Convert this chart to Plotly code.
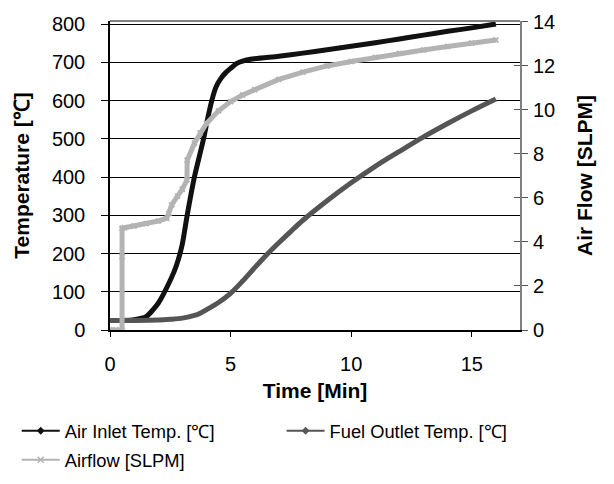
import plotly.graph_objects as go

# ---- data ----
air_t = [0, 0.5, 1.0, 1.5, 2.0, 2.5, 2.75, 3.0, 3.2, 3.5, 3.88, 4.05, 4.22, 4.4, 4.6, 4.8,
         5.0, 5.26, 5.5, 5.82, 7.0, 8.0, 9.0, 10.0, 11.0, 12.0, 13.0, 14.0, 15.0, 16.0]
air_temp = [25, 25, 27, 35, 70, 130, 168, 225, 300, 400, 500, 553, 600, 636, 658, 673,
            684, 697, 703, 708, 716, 724, 733, 742, 751, 761, 771, 781, 790, 800]

fuel_t = [0, 1, 2, 2.5, 3, 3.5, 3.74, 4, 4.5, 5, 5.5, 6, 6.5, 7, 7.5, 8, 9, 10, 11, 12, 13,
          14, 15, 16]
fuel_temp = [25, 25, 26, 28, 31, 38, 44, 53, 72, 96, 128, 163, 197, 228, 258, 287, 338, 385,
             428, 467, 505, 540, 573, 604]

flow_t = [0, 0.25, 0.5, 0.5, 0.5, 0.6, 1.0, 1.5, 2.0, 2.35, 2.45, 2.56, 2.8, 3.0, 3.19, 3.2,
          3.5, 3.74, 4.0, 4.5, 5.0, 5.5, 6.0, 7.0, 8.0, 9.0, 10.0, 11.0, 12.0, 13.0, 14.0,
          15.0, 16.0]
flow_slpm = [0, 0, 0, 3.33, 4.62, 4.64, 4.72, 4.83, 4.95, 5.07, 5.30, 5.68, 6.08, 6.39, 6.81,
             7.71, 8.48, 8.95, 9.38, 9.95, 10.37, 10.67, 10.91, 11.38, 11.71, 11.99, 12.19,
             12.38, 12.56, 12.71, 12.87, 13.03, 13.17]

names = ["Air Inlet Temp. [℃]", "Fuel Outlet Temp. [℃]", "Airflow [SLPM]"]
colors = ["#111111", "#555555", "#b3b3b3"]

x_ticks = [0, 5, 10, 15]
left_ticks = [0, 100, 200, 300, 400, 500, 600, 700, 800]
right_ticks = [0, 2, 4, 6, 8, 10, 12, 14]

FONT = "Liberation Sans, Arial, sans-serif"
TICK = 20
TITLE = 21

fig = go.Figure()
fig.add_trace(go.Scatter(x=air_t, y=air_temp, mode="lines",
                         line=dict(color=colors[0], width=5, shape="spline", smoothing=0.6),
                         showlegend=False, yaxis="y"))
fig.add_trace(go.Scatter(x=fuel_t, y=fuel_temp, mode="lines",
                         line=dict(color=colors[1], width=5, shape="spline", smoothing=0.8),
                         showlegend=False, yaxis="y"))
fig.add_trace(go.Scatter(x=flow_t, y=flow_slpm, mode="lines+markers",
                         line=dict(color=colors[2], width=5),
                         marker=dict(symbol="x-thin", size=5, line=dict(color=colors[2], width=2)),
                         showlegend=False, yaxis="y2"))

# legend proxies (thin lines like the original legend)
fig.add_trace(go.Scatter(x=[None], y=[None], mode="lines+markers", name=names[0], legend="legend",
                         line=dict(color=colors[0], width=2),
                         marker=dict(symbol="diamond", size=6, color=colors[0])))
fig.add_trace(go.Scatter(x=[None], y=[None], mode="lines+markers", name=names[1], legend="legend2",
                         line=dict(color=colors[1], width=2),
                         marker=dict(symbol="diamond", size=6, color=colors[1])))
fig.add_trace(go.Scatter(x=[None], y=[None], mode="lines+markers", name=names[2], legend="legend3",
                         line=dict(color=colors[2], width=2),
                         marker=dict(symbol="x-thin", size=6, line=dict(color=colors[2], width=1.5))))
# invisible trace to hold overlay axis for crossing ticks
fig.add_trace(go.Scatter(x=[None], y=[None], yaxis="y3", showlegend=False))

leg_common = dict(xanchor="left", yanchor="top", font=dict(size=18.3), itemwidth=38,
                  bgcolor="rgba(0,0,0,0)", orientation="v")

fig.update_layout(
    width=606, height=476,
    margin=dict(l=102, r=94, t=13, b=154, autoexpand=False),
    paper_bgcolor="white", plot_bgcolor="white",
    font=dict(family=FONT, size=TICK, color="black"),
    xaxis=dict(range=[0, 17], tickvals=x_ticks, ticks="outside", ticklen=5, tickcolor="black",
               showline=True, linecolor="black", linewidth=1.5, showgrid=False, zeroline=False,
               ticklabelstandoff=10, automargin=False,
               title=dict(text="<b>Time [Min]</b>", font=dict(size=TITLE), standoff=10)),
    yaxis=dict(range=[0, 808], tickvals=left_ticks, ticks="outside", ticklen=7, tickcolor="black",
               showline=True, linecolor="black", linewidth=1.5, showgrid=True, gridcolor="black",
               gridwidth=1, zeroline=False, ticklabelstandoff=12, automargin=False,
               title=dict(text="<b>Temperature [℃]</b>", font=dict(size=TITLE), standoff=17)),
    yaxis2=dict(range=[0, 14.03], tickvals=right_ticks, overlaying="y", side="right", anchor="x",
                ticks="outside", ticklen=6, tickcolor="#555555", showline=True,
                linecolor="#808080", linewidth=2, showgrid=False, zeroline=False,
                ticklabelstandoff=1, automargin=False,
                title=dict(text="<b>Air Flow [SLPM]</b>", font=dict(size=TITLE), standoff=23)),
    yaxis3=dict(range=[0, 14.03], tickvals=right_ticks, overlaying="y", side="right", anchor="x",
                ticks="inside", ticklen=6, tickcolor="#555555", showline=False,
                showgrid=False, zeroline=False, showticklabels=False),
    legend=dict(x=-0.2275, y=-0.2665, **leg_common),
    legend2=dict(x=0.4185, y=-0.2665, **leg_common),
    legend3=dict(x=-0.2275, y=-0.3605, **leg_common),
    shapes=[dict(type="line", xref="x domain", yref="y domain", x0=0, x1=1, y0=1, y1=1,
                 line=dict(color="#808080", width=2))],
)

fig.write_html("out.html")
